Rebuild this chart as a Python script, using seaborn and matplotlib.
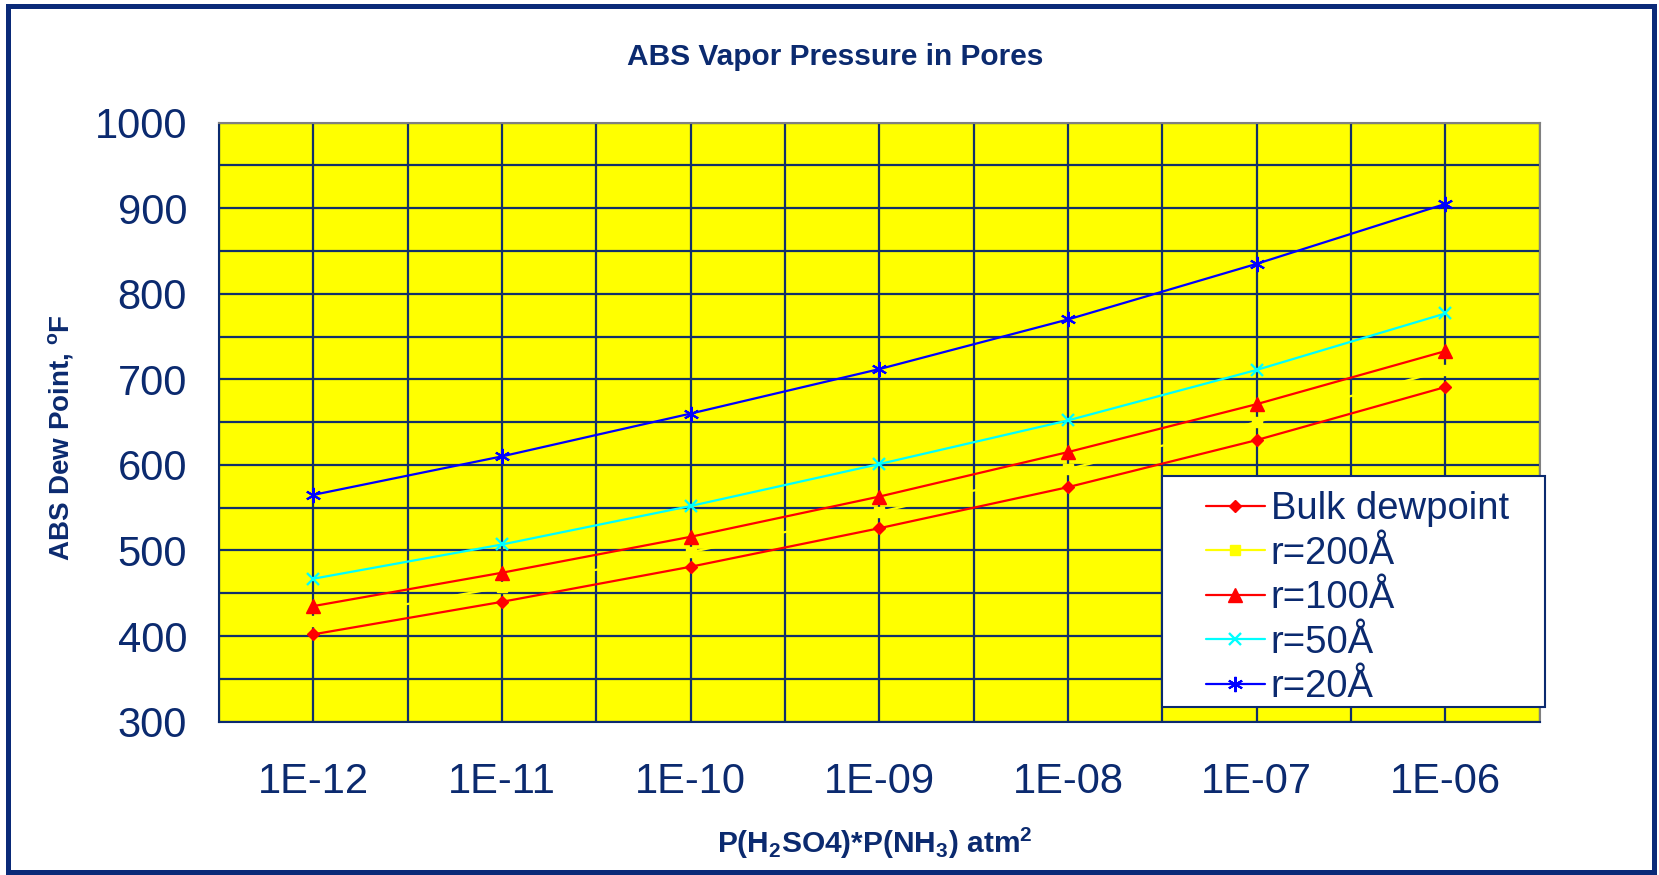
import numpy as np
import matplotlib
matplotlib.use("Agg")
import matplotlib.pyplot as plt
import seaborn as sns
from matplotlib.patches import Rectangle

# ---------------- data ----------------
categories = ["1E-12", "1E-11", "1E-10", "1E-09", "1E-08", "1E-07", "1E-06"]
bulk_dewpoint = [402, 440, 481, 526, 574, 629, 691]
r_200 = [418, 457, 498, 545, 595, 650, 711]
r_100 = [435, 474, 516, 563, 615, 671, 733]
r_50 = [467, 507, 552, 601, 652, 711, 777]
r_20 = [565, 610, 660, 712, 770, 835, 905]
series_names = ["Bulk dewpoint", "r=200Å", "r=100Å", "r=50Å", "r=20Å"]
y_ticks = [300, 400, 500, 600, 700, 800, 900, 1000]
y_minor = [350, 450, 550, 650, 750, 850, 950]

title = "ABS Vapor Pressure in Pores"
x_label = r"P(H$_{\mathbf{2}}$SO4)*P(NH$_{\mathbf{3}}$) atm$^{\mathbf{2}}$"
y_label = r"ABS Dew Point, $^{\mathbf{o}}$F"

# ---------------- style ----------------
sns.set_style("white")
plt.rcParams["font.family"] = ["Liberation Sans", "DejaVu Sans"]
plt.rcParams["mathtext.fontset"] = "custom"
plt.rcParams["mathtext.rm"] = "Liberation Sans"
plt.rcParams["mathtext.bf"] = "Liberation Sans:bold"
plt.rcParams["mathtext.it"] = "Liberation Sans:italic"

NAVY = "#0B2A6F"
GRID = "#12306A"

fig = plt.figure(figsize=(16.59, 8.75), dpi=100)
ax = fig.add_axes([0.132, 0.1753, 0.796, 0.6845])
ax.set_facecolor("#FFFF00")

x_pos = np.arange(len(categories))
series = [bulk_dewpoint, r_200, r_100, r_50, r_20]
colors = ["#FF0000", "#FFFF00", "#FF0000", "#00FFFF", "#0000FF"]
markers = ["D", "s", "^", "x", (6, 2, 0)]
msizes = [6.5, 7, 10, 9, 11]
mews = [1, 1, 1, 1.7, 1.5]

for vals, name, c, m, ms, mew in zip(series, series_names, colors, markers, msizes, mews):
    sns.lineplot(x=x_pos, y=vals, ax=ax, color=c, marker=m, markersize=ms,
                 markeredgecolor=c, markerfacecolor=c, markeredgewidth=mew,
                 linewidth=1.6, label=name, legend=False, zorder=3)

ax.set_xlim(-0.5, len(categories) - 0.5)
ax.set_ylim(300, 1000)

ax.set_xticks(np.arange(-0.5, len(categories), 1.0))
ax.set_xticks(x_pos, minor=True)
ax.set_xticklabels(categories, minor=True)
ax.tick_params(axis="x", which="major", length=13, width=1.3, color=NAVY,
               direction="out", labelbottom=False)
ax.tick_params(axis="x", which="minor", length=0, pad=29, labelsize=30,
               labelcolor=NAVY)
ax.set_yticks(y_ticks)
ax.set_yticks(y_minor, minor=True)
ax.tick_params(axis="y", which="major", length=11, width=1.3, color=NAVY,
               direction="out", pad=12, labelsize=30, labelcolor=NAVY)
ax.tick_params(axis="y", which="minor", length=0)
ax.grid(True, which="both", color=GRID, linewidth=1.6)
ax.set_axisbelow(True)

for s in ["left", "bottom"]:
    ax.spines[s].set_color(NAVY)
    ax.spines[s].set_linewidth(1.5)
for s in ["top", "right"]:
    ax.spines[s].set_color("#808080")
    ax.spines[s].set_linewidth(1.5)

ax.set_xlabel(x_label, fontsize=21.5, fontweight="bold", color=NAVY)
ax.xaxis.set_label_coords(0.497, -0.204)
ax.xaxis.label.set_verticalalignment("center")
ax.set_ylabel(y_label, fontsize=20, fontweight="bold", color=NAVY)
ax.yaxis.set_label_coords(-0.120, 0.474)
ax.yaxis.label.set_verticalalignment("center")

fig.text(835 / 1659, 1 - 57 / 875, title, ha="center", va="center",
         fontsize=21.5, fontweight="bold", color=NAVY)

# legend frame and legend
fig.patches.append(Rectangle((0.7004, 0.192), 0.2309, 0.264, transform=fig.transFigure,
                             facecolor="white", edgecolor=NAVY, linewidth=1.5, zorder=3))
handles, labels = ax.get_legend_handles_labels()
fig.legend(handles, labels, loc="upper left", bbox_to_anchor=(0.727, 0.4385),
           frameon=False, borderpad=0, borderaxespad=0, handlelength=1.53,
           handletextpad=0.16, labelspacing=0.22, fontsize=27.5,
           labelcolor=NAVY, numpoints=1)

# outer border
fig.patches.append(Rectangle((0.0048, 0.0034), 0.9922, 0.9897, transform=fig.transFigure,
                             fill=False, edgecolor="#0A2A78", linewidth=3.6, zorder=10))

fig.savefig("out.png", dpi=100)
